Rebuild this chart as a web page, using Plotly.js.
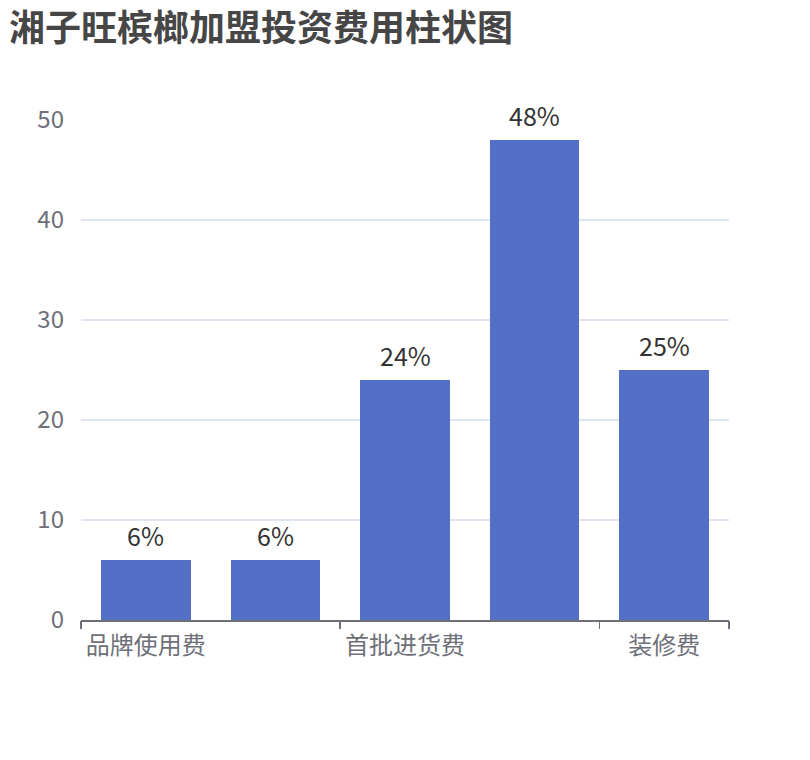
<!DOCTYPE html>
<html>
<head>
<meta charset="utf-8">
<script src="https://cdn.plot.ly/plotly-3.0.1.min.js"></script>
<style>
  html, body { margin: 0; padding: 0; background: #fff; }
  #chart { width: 810px; height: 760px; }
</style>
</head>
<body>
<div id="chart"></div>
<script>
// 费用项目 (ECharts-style interval: only every other label is shown)
const categories = ['品牌使用费', '加盟费', '首批进货费', '设备费', '装修费'];
const values = [6, 6, 24, 48, 25];
const shownLabels = ['品牌使用费', '首批进货费', '装修费'];
const yTicks = [0, 10, 20, 30, 40, 50];

const font = '"Noto Sans CJK SC", "Noto Sans", sans-serif';
const pos = categories.map((c, i) => i);
const labelPos = shownLabels.map(l => categories.indexOf(l));
// ticks sit on category boundaries, every second one, plus the axis end
const tickPos = labelPos.map(i => i - 0.5).concat([categories.length - 0.5]);

const trace = {
    type: 'bar',
    x: pos,
    y: values,
    width: 0.69,
    marker: { color: '#5470C6' },
    hoverinfo: 'skip'
};

// invisible helper trace so the tick axis gets drawn
const tickTrace = {
    type: 'scatter',
    x: [tickPos[0], tickPos[tickPos.length - 1]],
    y: [0, 0],
    xaxis: 'x2',
    mode: 'none',
    showlegend: false,
    hoverinfo: 'skip'
};

// value labels above the bars
const valueLabels = values.map((v, i) => ({
    x: pos[i],
    y: v,
    xref: 'x',
    yref: 'y',
    text: v + '%',
    showarrow: false,
    yanchor: 'bottom',
    yshift: 5,
    font: { family: font, size: 25, color: '#333333' }
}));

const layout = {
    width: 810,
    height: 760,
    margin: { l: 81, r: 81, t: 120, b: 140 },
    paper_bgcolor: '#ffffff',
    plot_bgcolor: '#ffffff',
    showlegend: false,
    bargap: 0,
    annotations: valueLabels,
    title: {
        text: '<b>湘子旺槟榔加盟投资费用柱状图</b>',
        font: { family: font, size: 36, color: '#464646' },
        x: 0, xref: 'paper', xanchor: 'left',
        y: 0.963, yref: 'container', yanchor: 'middle',
        pad: { l: -72 }
    },
    xaxis: {
        range: [-0.5, categories.length - 0.5],
        tickmode: 'array',
        tickvals: labelPos,
        ticktext: shownLabels,
        ticks: '',
        showgrid: false,
        zeroline: false,
        showline: true,
        linecolor: '#6E7079',
        linewidth: 1.5,
        tickfont: { family: font, size: 24, color: '#6E7079' },
        ticklabelstandoff: 4,
        fixedrange: true
    },
    xaxis2: {
        overlaying: 'x',
        matches: 'x',
        side: 'bottom',
        tickmode: 'array',
        tickvals: tickPos,
        ticks: 'outside',
        ticklen: 8,
        tickwidth: 1.5,
        tickcolor: '#6E7079',
        showticklabels: false,
        showgrid: false,
        zeroline: false,
        showline: false
    },
    yaxis: {
        range: [0, 50],
        tickmode: 'array',
        tickvals: yTicks,
        ticks: '',
        showline: false,
        zeroline: false,
        gridcolor: '#E0E6F1',
        gridwidth: 1.5,
        tickfont: { family: font, size: 24, color: '#6E7079' },
        ticklabelstandoff: 16,
        fixedrange: true
    }
};

Plotly.newPlot('chart', [trace, tickTrace], layout, { displayModeBar: false, staticPlot: true });
</script>
</body>
</html>
